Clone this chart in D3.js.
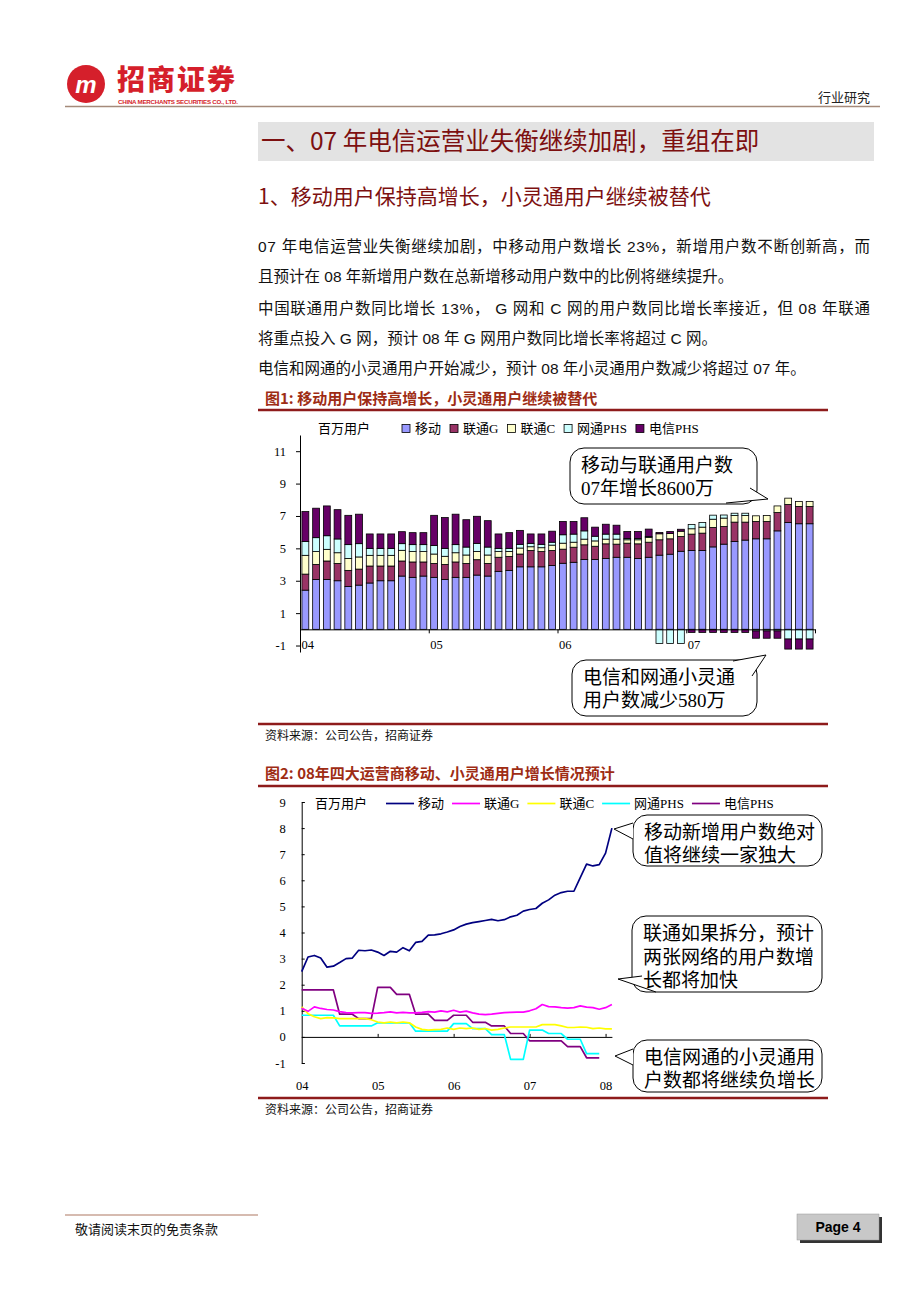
<!DOCTYPE html>
<html lang="zh">
<head>
<meta charset="UTF-8">
<title>行业研究 - Page 4</title>
<script src="https://d3js.org/d3.v7.min.js"></script>
<style>
  body { margin: 0; background: #fff; }
  svg { display: block; }
  text { font-family: "Noto Sans CJK SC", sans-serif; }
  .serif { font-family: "Liberation Serif", "Noto Sans CJK SC", serif; }
  .axis .tick text { font-family: "Liberation Serif", serif; font-size: 12.5px; fill: #000; }
  .axis .tick line, .axis .domain { stroke: #000; }
</style>
</head>
<body>
<svg id="page" width="920" height="1302"></svg>
<script>
// ---------- data ----------
var seriesNames = ["移动", "联通G", "联通C", "网通PHS", "电信PHS"];
var barYears = ["04", "05", "06", "07"];
var lineYears = ["04", "05", "06", "07", "08"];
var barTicks = [-1, 1, 3, 5, 7, 9, 11];
var lineTicks = [-1, 0, 1, 2, 3, 4, 5, 6, 7, 8, 9];

// fig 1: monthly stacked bars, 2004-01 .. 2007-12 (million users)
var barMobile = [2.42, 3.08, 3.08, 3.00, 2.65, 2.73, 2.86, 3.00, 3.00, 3.29, 3.21, 3.29,
                 3.21, 3.08, 3.21, 3.21, 3.35, 3.29, 3.58, 3.64, 3.86, 3.86, 3.86, 3.94,
                 4.08, 4.14, 4.31, 4.31, 4.37, 4.45, 4.45, 4.37, 4.45, 4.58, 4.64, 4.82,
                 4.87, 4.87, 5.09, 5.26, 5.42, 5.51, 5.59, 5.59, 6.08, 6.60, 6.52, 6.52];
var barUnicomG = [0.99, 0.93, 1.14, 1.07, 0.99, 0.99, 1.05, 0.91, 0.91, 0.93, 0.95, 0.87,
                  0.86, 0.93, 0.95, 0.86, 0.95, 0.78, 0.87, 0.86, 0.79, 1.01, 0.94, 0.93,
                  0.87, 0.93, 0.91, 0.82, 0.91, 0.81, 0.87, 0.91, 0.93, 0.95, 0.95, 0.91,
                  1.01, 1.07, 1.20, 1.09, 1.20, 1.11, 1.07, 1.07, 1.13, 1.11, 1.07, 1.07];
var barUnicomC = [1.16, 0.79, 0.72, 0.66, 0.74, 0.75, 0.66, 0.66, 0.66, 0.66, 0.64, 0.64,
                  0.58, 0.50, 0.57, 0.52, 0.51, 0.52, 0.35, 0.31, 0.37, 0.23, 0.24, 0.33,
                  0.37, 0.31, 0.35, 0.33, 0.29, 0.31, 0.21, 0.25, 0.29, 0.37, 0.33, 0.33,
                  0.33, 0.37, 0.51, 0.52, 0.41, 0.41, 0.35, 0.37, 0.41, 0.39, 0.31, 0.31];
var barCncPhs = [0.86, 0.86, 0.84, 0.85, 0.85, 0.82, 0.43, 0.43, 0.43, 0.41, 0.43, 0.43,
                 0.52, 0.49, 0.50, 0.49, 0.50, 0.49, 0.20, 0.19, 0.23, 0.21, 0.21, 0.18,
                 0.52, 0.50, 0.51, 0.29, 0.31, 0.31, 0.08, 0.08, 0.06, -0.87, -0.87, -0.87,
                 0.27, 0.29, 0.25, 0.19, 0.14, 0.14, -0.10, -0.10, -0.10, -0.60, -0.60, -0.60];
var barTelecomPhs = [1.84, 1.82, 1.84, 1.81, 1.81, 1.82, 0.89, 0.89, 0.89, 0.74, 0.74, 0.74,
                     1.87, 1.90, 1.88, 1.69, 1.67, 1.63, 0.89, 0.97, 0.86, 0.58, 0.64, 0.68,
                     0.82, 0.78, 0.81, 0.56, 0.61, 0.55, 0.43, 0.43, 0.46, 0.08, 0.12, 0.12,
                     -0.19, -0.19, -0.19, -0.19, -0.19, -0.19, -0.45, -0.45, -0.45, -0.62, -0.62, -0.62];

// fig 2: monthly lines, 2004-01 .. 2008-02 (mobile / unicom), .. 2007-12 (PHS)
var lineMobile = [2.50, 3.06, 3.12, 3.02, 2.67, 2.71, 2.85, 3.00, 3.02, 3.32, 3.30, 3.33,
                  3.25, 3.12, 3.28, 3.25, 3.42, 3.30, 3.62, 3.66, 3.90, 3.91, 3.95, 4.02,
                  4.10, 4.23, 4.32, 4.38, 4.42, 4.46, 4.50, 4.45, 4.49, 4.60, 4.66, 4.82,
                  4.88, 4.92, 5.12, 5.25, 5.43, 5.53, 5.58, 5.58, 6.10, 6.62, 6.55, 6.60,
                  7.04, 8.00];
var lineUnicomG = [1.10, 0.98, 1.15, 1.09, 1.05, 1.03, 0.97, 0.93, 0.92, 0.93, 0.93, 0.90,
                   0.91, 0.93, 0.96, 0.92, 0.94, 0.92, 0.92, 0.94, 0.97, 0.95, 1.00, 0.96,
                   1.02, 0.95, 0.99, 0.92, 0.87, 0.85, 0.87, 0.90, 0.93, 0.94, 0.95, 0.95,
                   1.00, 1.08, 1.24, 1.16, 1.15, 1.12, 1.10, 1.12, 1.19, 1.14, 1.12, 1.06,
                   1.12, 1.24];
var lineUnicomC = [1.15, 0.89, 0.77, 0.70, 0.74, 0.73, 0.70, 0.70, 0.70, 0.70, 0.70, 0.66,
                   0.57, 0.54, 0.57, 0.54, 0.57, 0.54, 0.38, 0.29, 0.26, 0.28, 0.29, 0.34,
                   0.29, 0.34, 0.32, 0.34, 0.29, 0.32, 0.26, 0.29, 0.34, 0.38, 0.38, 0.38,
                   0.38, 0.38, 0.47, 0.47, 0.47, 0.42, 0.36, 0.36, 0.38, 0.37, 0.32, 0.34,
                   0.31, 0.31];
var lineCncPhs = [0.83, 0.83, 0.83, 0.83, 0.83, 0.83, 0.42, 0.42, 0.42, 0.42, 0.42, 0.42,
                  0.54, 0.54, 0.54, 0.54, 0.54, 0.54, 0.22, 0.22, 0.22, 0.22, 0.22, 0.22,
                  0.51, 0.51, 0.51, 0.32, 0.32, 0.32, 0.09, 0.09, 0.09, -0.86, -0.86, -0.86,
                  0.26, 0.26, 0.26, 0.13, 0.13, 0.13, -0.09, -0.09, -0.09, -0.64, -0.64, -0.64];
var lineTelecomPhs = [1.80, 1.80, 1.80, 1.80, 1.80, 1.80, 0.87, 0.87, 0.87, 0.70, 0.70, 0.70,
                      1.90, 1.90, 1.90, 1.63, 1.63, 1.63, 0.87, 0.87, 0.87, 0.63, 0.63, 0.63,
                      0.83, 0.83, 0.83, 0.56, 0.56, 0.56, 0.42, 0.42, 0.42, 0.13, 0.13, 0.13,
                      -0.15, -0.15, -0.15, -0.15, -0.15, -0.15, -0.37, -0.37, -0.37, -0.80, -0.80, -0.80];

var barColors = ["#9999ff", "#993366", "#ffffcc", "#ccffff", "#660066"];
var lineColors = ["#000080", "#ff00ff", "#ffff00", "#00ffff", "#800080"];

var svg = d3.select("#page");
var red = "#7d1010";
var figRed = "#9e2c14";
var plain = function (d) { return String(d); };   // "-1" with a hyphen, as in the original

// ---------- page header ----------
svg.append("circle").attr("cx", 86).attr("cy", 84).attr("r", 19).attr("fill", "#d51f2b");
svg.append("text").attr("x", 86).attr("y", 93).attr("text-anchor", "middle")
  .attr("font-style", "italic").attr("font-weight", "bold")
  .attr("font-size", 24).attr("fill", "#fff").style("font-family", "Liberation Sans").text("m");
svg.append("text").attr("x", 117).attr("y", 90).attr("font-size", 28).attr("font-weight", 900)
  .attr("fill", "#d51f2b").attr("letter-spacing", 2).text("招商证券");
svg.append("text").attr("x", 118).attr("y", 104).attr("font-size", 6.2).attr("font-weight", "bold")
  .style("font-family", "Liberation Sans").attr("fill", "#d51f2b")
  .attr("textLength", 120).text("CHINA MERCHANTS SECURITIES CO., LTD.");
svg.append("text").attr("x", 870).attr("y", 102).attr("text-anchor", "end").attr("font-size", 13)
  .attr("fill", "#222").text("行业研究");
svg.append("line").attr("x1", 65).attr("x2", 880).attr("y1", 106.5).attr("y2", 106.5)
  .attr("stroke", "#a58a7a").attr("stroke-width", 1.5);

// section heading
svg.append("rect").attr("x", 258).attr("y", 122).attr("width", 616).attr("height", 39).attr("fill", "#e3e3e3");
svg.append("text").attr("x", 261).attr("y", 150).attr("font-size", 24.5).attr("fill", red)
  .text("一、07 年电信运营业失衡继续加剧，重组在即");
svg.append("text").attr("x", 258).attr("y", 204).attr("font-size", 21).attr("fill", red)
  .text("1、移动用户保持高增长，小灵通用户继续被替代");

// body text
var body = [
  {t: "07 年电信运营业失衡继续加剧，中移动用户数增长 23%，新增用户数不断创新高，而", y: 252, j: true},
  {t: "且预计在 08 年新增用户数在总新增移动用户数中的比例将继续提升。", y: 282, j: false},
  {t: "中国联通用户数同比增长 13%， G 网和 C 网的用户数同比增长率接近，但 08 年联通", y: 314, j: true},
  {t: "将重点投入 G 网，预计 08 年 G 网用户数同比增长率将超过 C 网。", y: 344, j: false},
  {t: "电信和网通的小灵通用户开始减少，预计 08 年小灵通用户数减少将超过 07 年。", y: 374, j: false}
];
body.forEach(function (b) {
  var t = svg.append("text").attr("x", 258).attr("y", b.y).attr("font-size", 15.5)
    .attr("fill", "#111").style("font-family", "Liberation Sans, Noto Sans CJK SC").text(b.t);
  if (b.j) t.attr("textLength", 612).attr("lengthAdjust", "spacing");
});

function figFrame(title, yTitle, yTop, yBottom) {
  svg.append("text").attr("x", 265).attr("y", yTitle).attr("font-size", 15).attr("font-weight", "bold")
    .attr("fill", figRed).text(title);
  svg.append("line").attr("x1", 258).attr("x2", 828).attr("y1", yTop).attr("y2", yTop)
    .attr("stroke", "#8e1b1b").attr("stroke-width", 2.5);
  svg.append("line").attr("x1", 258).attr("x2", 828).attr("y1", yBottom).attr("y2", yBottom)
    .attr("stroke", "#8e1b1b").attr("stroke-width", 2.5);
  svg.append("text").attr("x", 265).attr("y", yBottom + 16).attr("font-size", 12)
    .attr("fill", "#111").text("资料来源：公司公告，招商证券");
}
figFrame("图1:  移动用户保持高增长，小灵通用户继续被替代", 404, 410, 724);
figFrame("图2:  08年四大运营商移动、小灵通用户增长情况预计", 779, 786, 1098);

// speech bubble
function bubble(x, y, w, h, b1, tip, b2, lines, lineH) {
  var g = svg.append("g");
  g.append("rect").attr("x", x).attr("y", y).attr("width", w).attr("height", h)
    .attr("rx", 14).attr("fill", "#fff").attr("stroke", "#000").attr("stroke-width", 1);
  g.append("path").attr("d", "M" + b1 + "L" + tip + "L" + b2 + "Z").attr("fill", "#fff");
  g.append("path").attr("d", "M" + b1 + "L" + tip + "L" + b2).attr("fill", "none")
    .attr("stroke", "#000").attr("stroke-width", 1);
  lines.forEach(function (s, i) {
    g.append("text").attr("class", "serif").attr("x", x + 11).attr("y", y + 24 + i * lineH)
      .attr("font-size", 19).attr("fill", "#000").text(s);
  });
}

// ---------- fig 1: stacked bars ----------
var barRows = barMobile.map(function (v, i) {
  var r = {i: i};
  r[seriesNames[0]] = barMobile[i];
  r[seriesNames[1]] = barUnicomG[i];
  r[seriesNames[2]] = barUnicomC[i];
  r[seriesNames[3]] = barCncPhs[i];
  r[seriesNames[4]] = barTelecomPhs[i];
  return r;
});
var layers = d3.stack().keys(seriesNames).offset(d3.stackOffsetDiverging)(barRows);

var x1 = d3.scaleBand().domain(barRows.map(function (d) { return d.i; }))
  .range([300, 815]).paddingInner(0.36).paddingOuter(0.18);
var x1Lin = d3.scaleLinear().domain([0, barRows.length]).range([300, 815]);
var y1 = d3.scaleLinear().domain([-1.4, 12]).range([652, 435]);

var c1 = svg.append("g");
c1.selectAll("g.layer").data(layers).enter().append("g")
  .attr("class", "layer")
  .attr("fill", function (d, k) { return barColors[k]; })
  .selectAll("rect").data(function (d) { return d; }).enter().append("rect")
  .attr("x", function (d) { return x1(d.data.i); })
  .attr("width", x1.bandwidth())
  .attr("y", function (d) { return y1(Math.max(d[0], d[1])); })
  .attr("height", function (d) { return Math.abs(y1(d[0]) - y1(d[1])); })
  .attr("stroke", "#000").attr("stroke-width", 0.8);

c1.append("g").attr("class", "axis").attr("transform", "translate(300,0)")
  .call(d3.axisLeft(y1).tickValues(barTicks).tickSizeInner(4).tickSizeOuter(0).tickPadding(10)
    .tickFormat(plain));
c1.append("g").attr("class", "axis").attr("transform", "translate(0," + y1(0) + ")")
  .call(d3.axisBottom(x1Lin).tickValues([0, 12, 24, 36, 48]).tickSizeInner(4).tickSizeOuter(0)
    .tickFormat(""));
var xl1 = c1.append("g").attr("class", "axis").attr("transform", "translate(0,640)")
  .call(d3.axisBottom(x1Lin).tickValues([0, 12, 24, 36]).tickSize(0).tickPadding(0)
    .tickFormat(function (d, i) { return barYears[i]; }));
xl1.select(".domain").remove();
xl1.selectAll("text").attr("text-anchor", "start").attr("dx", 1);

// legend fig 1
svg.append("text").attr("class", "serif").attr("x", 318).attr("y", 433).attr("font-size", 13).text("百万用户");
var lx = 402;
seriesNames.forEach(function (n, k) {
  svg.append("rect").attr("x", lx).attr("y", 424.5).attr("width", 8).attr("height", 8)
    .attr("fill", barColors[k]).attr("stroke", "#000").attr("stroke-width", 0.8);
  var t = svg.append("text").attr("class", "serif").attr("x", lx + 13).attr("y", 433)
    .attr("font-size", 13).text(n);
  lx += 13 + t.node().getComputedTextLength() + 9;
});

bubble(570, 448, 187, 56, "726,503", "768,499", "750,488", ["移动与联通用户数", "07年增长8600万"], 23);
bubble(572, 660, 185, 56, "733,661", "766,655", "752,676", ["电信和网通小灵通", "用户数减少580万"], 23);

// ---------- fig 2: lines ----------
var x2 = d3.scaleLinear().domain([0, 49]).range([301.7, 611.9]);
var y2 = d3.scaleLinear().domain([-1, 9]).range([1063, 802]);
var c2 = svg.append("g");

c2.append("g").attr("class", "axis").attr("transform", "translate(301.7,0)")
  .call(d3.axisLeft(y2).tickValues(lineTicks).tickSizeInner(-3).tickSizeOuter(-3).tickPadding(16)
    .tickFormat(plain));
c2.append("g").attr("class", "axis").attr("transform", "translate(0," + y2(0) + ")")
  .call(d3.axisBottom(x2).tickValues([12, 24, 36, 48]).tickSizeInner(-3).tickSizeOuter(0)
    .tickFormat(""));
var xl2 = c2.append("g").attr("class", "axis").attr("transform", "translate(0,1081)")
  .call(d3.axisBottom(x2).tickValues([0, 12, 24, 36, 48]).tickSize(0).tickPadding(0)
    .tickFormat(function (d, i) { return lineYears[i]; }));
xl2.select(".domain").remove();

var line = d3.line().x(function (d, i) { return x2(i); }).y(function (d) { return y2(d); });
var lineSeries = [lineMobile, lineUnicomG, lineUnicomC, lineCncPhs, lineTelecomPhs];
[4, 3, 2, 1, 0].forEach(function (k) {
  c2.append("path").attr("d", line(lineSeries[k])).attr("fill", "none")
    .attr("stroke", lineColors[k]).attr("stroke-width", 1.7).attr("stroke-linejoin", "round");
});

// legend fig 2
svg.append("text").attr("class", "serif").attr("x", 315).attr("y", 808).attr("font-size", 13).text("百万用户");
var lx2 = 386;
seriesNames.forEach(function (n, k) {
  svg.append("line").attr("x1", lx2).attr("x2", lx2 + 28).attr("y1", 803.5).attr("y2", 803.5)
    .attr("stroke", lineColors[k]).attr("stroke-width", 1.7);
  var t = svg.append("text").attr("class", "serif").attr("x", lx2 + 32).attr("y", 808)
    .attr("font-size", 13).text(n);
  lx2 += 32 + t.node().getComputedTextLength() + 8;
});

bubble(633, 815, 189, 51, "633,823", "614,829", "633,839", ["移动新增用户数绝对", "值将继续一家独大"], 23);
bubble(632, 916, 190, 76, "642,976", "618,979", "656,992", ["联通如果拆分，预计", "两张网络的用户数增", "长都将加快"], 23.5);
bubble(633, 1040, 189, 52, "633,1049", "615,1056", "633,1065", ["电信网通的小灵通用", "户数都将继续负增长"], 23);

// ---------- footer ----------
svg.append("line").attr("x1", 65).attr("x2", 258).attr("y1", 1215).attr("y2", 1215)
  .attr("stroke", "#c9a596").attr("stroke-width", 1.5);
svg.append("text").attr("x", 75).attr("y", 1234).attr("font-size", 13).attr("fill", "#111").text("敬请阅读末页的免责条款");
svg.append("rect").attr("x", 800).attr("y", 1217).attr("width", 82).attr("height", 26).attr("fill", "#333");
svg.append("rect").attr("x", 797).attr("y", 1214).attr("width", 82).attr("height", 26)
  .attr("fill", "#c8c8c8").attr("stroke", "#999").attr("stroke-width", 0.5);
svg.append("text").attr("x", 838).attr("y", 1232).attr("text-anchor", "middle").attr("font-size", 14)
  .attr("font-weight", "bold").style("font-family", "Liberation Sans").text("Page 4");
</script>
</body>
</html>
